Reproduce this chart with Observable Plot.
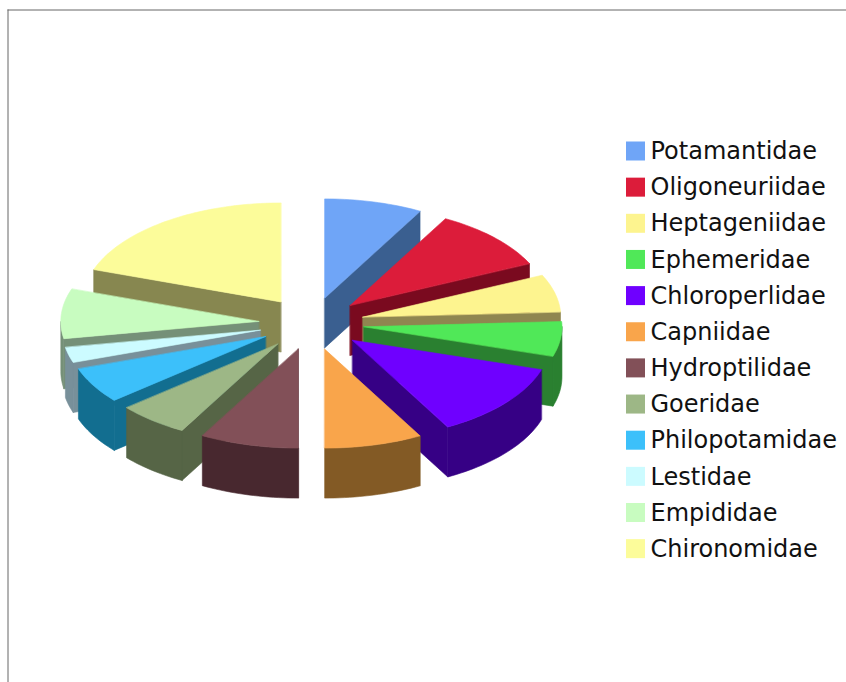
<!DOCTYPE html>
<html>
<head>
<meta charset="utf-8">
<script src="https://cdn.jsdelivr.net/npm/d3@7"></script>
<script src="https://cdn.jsdelivr.net/npm/@observablehq/plot@0.6"></script>
<style>
html,body{margin:0;padding:0;background:#fff;}
svg{display:block;max-width:none;}
</style>
</head>
<body>
<div id="chart"></div>
<script>
const families = ["Potamantidae","Oligoneuriidae","Heptageniidae","Ephemeridae","Chloroperlidae","Capniidae","Hydroptilidae","Goeridae","Philopotamidae","Lestidae","Empididae","Chironomidae"];
const shares = [8.0,10.05,6.1,5.65,12.2,8.0,8.05,5.8,5.85,2.5,8.1,19.7];
const topColors = ["#6fa5f7","#dc1c3a","#fdf48f","#50e858","#6f00ff","#f9a54b","#825058","#9db786","#3cc0fa","#ccfbff","#c8fcc0","#fcfc9a"];
const sideColors = ["#3a5f90","#7a0a1f","#8f8650","#2a8030","#360085","#835a25","#48282f","#566546","#126e90","#78909a","#759078","#878750"];
// slices painted back to front
const paintOrder = ["Chironomidae","Potamantidae","Oligoneuriidae","Heptageniidae","Ephemeridae","Empididae","Lestidae","Philopotamidae","Chloroperlidae","Goeridae","Capniidae","Hydroptilidae"];

const W = 846, H = 682;
const cx = 311, cy = 323, rx = 198, ry = 99;     // pie ellipse in pixels
const explode = 0.267, depth = 0.505;            // in pie radii
const fromPxX = p => (p - cx) / rx;
const fromPxY = p => (p - cy) / ry;

const rad = d => d * Math.PI / 180;
const total = d3.sum(shares);
let run = 0;
const slices = families.map((name, i) => {
  const a0 = run / total * 360;
  run += shares[i];
  const a1 = run / total * 360;
  const mid = rad((a0 + a1) / 2);
  return {name, a0, a1, top: topColors[i], side: sideColors[i],
          ox: explode * Math.sin(mid), oy: -explode * Math.cos(mid)};
});

const polygons = [];
let pid = 0;
function addPolygon(pts, color) {
  const id = pid++;
  pts.forEach(([x, y]) => polygons.push({x, y, id, color}));
}
function arcPts(s, a0, a1, dz) {
  const n = Math.max(2, Math.ceil((a1 - a0) / 1.5));
  return d3.range(n + 1).map(k => {
    const a = rad(a0 + (a1 - a0) * k / n);
    return [s.ox + Math.sin(a), s.oy - Math.cos(a) + dz];
  });
}
paintOrder.forEach(name => {
  const s = slices.find(d => d.name === name);
  const apex = [s.ox, s.oy];
  const wall = a => {
    const p = [s.ox + Math.sin(rad(a)), s.oy - Math.cos(rad(a))];
    addPolygon([apex, p, [p[0], p[1] + depth], [apex[0], apex[1] + depth]], s.side);
  };
  if (s.a1 > 0 && s.a1 < 180) wall(s.a1);
  if (s.a0 > 180 && s.a0 < 360) wall(s.a0);
  const f0 = Math.max(s.a0, 90), f1 = Math.min(s.a1, 270);
  if (f1 > f0) addPolygon([...arcPts(s, f0, f1, 0), ...arcPts(s, f0, f1, depth).reverse()], s.side);
  addPolygon([apex, ...arcPts(s, s.a0, s.a1, 0)], s.top);
});

const legendStep = 36.15, legendTop = 151;
const legendRows = families.map((name, i) => ({name, color: topColors[i], py: legendTop + i * legendStep}));

const chart = Plot.plot({
  width: W, height: H, margin: 0,
  style: {background: "#fff", fontFamily: "'DejaVu Sans'"},
  x: {domain: [fromPxX(0), fromPxX(W)], range: [0, W], axis: null},
  y: {domain: [fromPxY(0), fromPxY(H)], range: [0, H], axis: null},
  color: {type: "identity"},
  marks: [
    Plot.ruleY([fromPxY(9.5)], {x1: fromPxX(7.5), x2: fromPxX(W), stroke: "#666", strokeWidth: 1}),
    Plot.ruleX([fromPxX(7.5)], {y1: fromPxY(9.5), y2: fromPxY(H), stroke: "#666", strokeWidth: 1}),
    Plot.line(polygons, {x: "x", y: "y", z: "id", fill: "color", stroke: "color", strokeWidth: 0.6, curve: "linear-closed"}),
    Plot.rect(legendRows, {
      x1: () => fromPxX(626), x2: () => fromPxX(645),
      y1: d => fromPxY(d.py - 9.5), y2: d => fromPxY(d.py + 9.5),
      fill: "color"
    }),
    Plot.text(legendRows, {
      x: () => fromPxX(650), y: d => fromPxY(d.py),
      text: "name", textAnchor: "start", fontSize: 24, fill: "#111"
    })
  ]
});
document.getElementById("chart").appendChild(chart);
</script>
</body>
</html>
